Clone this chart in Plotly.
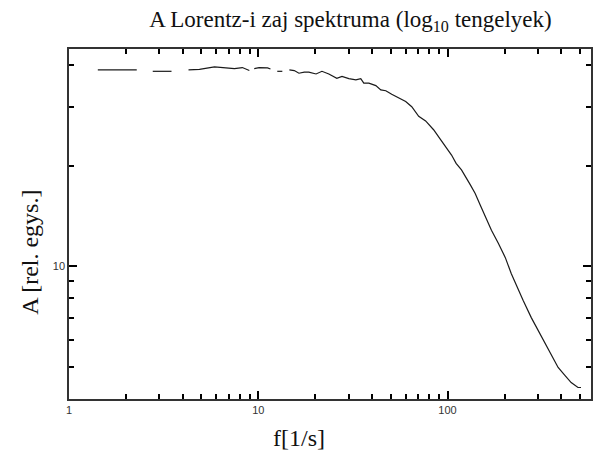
import plotly.graph_objects as go

# Frequency [1/s] and amplitude [rel. units]; None marks gaps in the trace
freq = [1.42, 1.8, 2.28, None,
        2.77, 3.1, 3.48, None,
        4.28, 4.89, 5.87, 6.62, 7.48, 8.24, 8.97, None,
        9.52, 10.1, 11.2, 11.6, None,
        12.6, 13.4, None,
        14.6, 15.5, 16.4, 17.5, 18.5, 20.2, 21.7, 23.6, 26.0, 27.7, 30.1, 32.8,
        34.8, 36.1, 38.4, 41.8, 44.4, 47.2, 50.7, 55.2, 60.1, 64.7, 70.4, 76.6,
        84.4, 91.9, 100, 105, 111, 118.5, 132, 140, 149, 158.5, 170.6, 185.5,
        202, 217, 237, 251, 277, 301, 328, 352, 384, 418, 450, 489, 507]
amp = [38.7, 38.7, 38.7, None,
       38.3, 38.3, 38.3, None,
       38.7, 38.8, 39.5, 39.2, 39.0, 39.3, 38.5, None,
       39.0, 39.3, 39.2, 38.9, None,
       38.3, 38.3, None,
       38.7, 38.5, 37.8, 38.1, 38.1, 37.6, 38.3, 37.6, 36.5, 37.0, 36.4, 36.1,
       36.4, 35.3, 35.3, 34.7, 33.7, 33.5, 32.7, 31.8, 31.1, 30.0, 28.1, 27.2,
       25.6, 23.9, 22.4, 21.5, 20.3, 19.4, 17.5, 16.5, 15.2, 14.0, 12.8, 11.7,
       10.6, 9.50, 8.45, 7.89, 7.01, 6.41, 5.86, 5.40, 4.97, 4.70, 4.48, 4.33, 4.33]

x_major = [1, 10, 100]
x_major_text = ["1", "10", "100"]
x_minor = [2, 3, 4, 5, 6, 7, 8, 9, 20, 30, 40, 50, 60, 70, 80, 90, 200, 300, 400, 500]
y_major = [10]
y_major_text = ["10"]
y_minor = [5, 6, 7, 8, 9, 20, 30, 40]

title_text = "A Lorentz-i zaj spektruma (log<sub>10</sub> tengelyek)"
x_title = "f[1/s]"
y_title = "A [rel. egys.]"

serif = "Liberation Serif, Times New Roman, serif"

fig = go.Figure()
fig.add_trace(go.Scatter(x=freq, y=amp, mode="lines",
                         line=dict(color="#1a1a1a", width=1.2),
                         connectgaps=False, showlegend=False))

tick_font = dict(family="Liberation Sans, Arial, sans-serif", size=11, color="#333")

fig.update_layout(
    width=594, height=456,
    margin=dict(l=69, r=1, t=49, b=57),
    paper_bgcolor="white", plot_bgcolor="white",
    xaxis=dict(
        type="log", range=[0, 2.758], showgrid=False, zeroline=False,
        showline=True, linecolor="#333", linewidth=1.5, mirror="allticks",
        ticks="inside", ticklen=8, tickwidth=2, tickcolor="#000",
        tickmode="array", tickvals=x_major, ticktext=x_major_text,
        tickangle=0, tickfont=tick_font,
        minor=dict(ticks="inside", ticklen=5, tickwidth=2, tickcolor="#000",
                   tickmode="array", tickvals=x_minor),
    ),
    yaxis=dict(
        type="log", range=[0.602, 1.65], showgrid=False, zeroline=False,
        showline=True, linecolor="#333", linewidth=1.5, mirror="allticks",
        ticks="inside", ticklen=8, tickwidth=2, tickcolor="#000",
        tickmode="array", tickvals=y_major, ticktext=y_major_text,
        tickfont=tick_font,
        minor=dict(ticks="inside", ticklen=5, tickwidth=2, tickcolor="#000",
                   tickmode="array", tickvals=y_minor),
    ),
    title=dict(text=title_text, x=0.59, xanchor="center", y=0.958, yanchor="middle",
               font=dict(family=serif, size=23, color="#111")),
    annotations=[
        dict(text=x_title, xref="paper", yref="paper", x=0.44, y=-0.11,
             xanchor="center", yanchor="middle", showarrow=False,
             font=dict(family=serif, size=24, color="#111")),
        dict(text=y_title, xref="paper", yref="paper", x=-0.075, y=0.42,
             xanchor="center", yanchor="middle", showarrow=False, textangle=-90,
             font=dict(family=serif, size=24, color="#111")),
    ],
)

fig.write_html("out.html")
